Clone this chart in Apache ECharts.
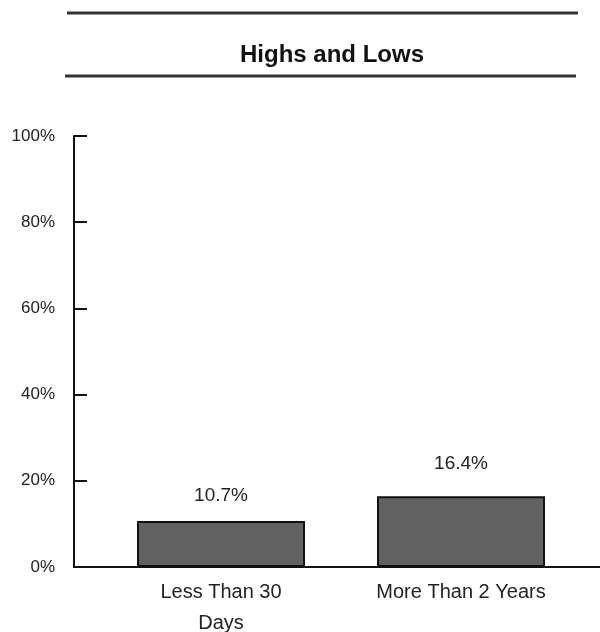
<!DOCTYPE html>
<html><head><meta charset="utf-8">
<script src="https://cdn.jsdelivr.net/npm/echarts@6/dist/echarts.min.js"></script>
<style>html,body{margin:0;padding:0;background:#fff}#c{width:600px;height:632px}</style>
</head><body><div id="c"></div>
<script>
var categories = ['Less Than 30\nDays', 'More Than 2 Years'];
var values = [10.7, 16.4];
var yMin = 0, yMax = 100, yStep = 20;
var titleText = 'Highs and Lows';

var labelDistances = [16, 23];
var FONT = '"Liberation Sans", Arial, sans-serif';
var chart = echarts.init(document.getElementById('c'), null, {renderer: 'canvas'});
chart.setOption({
  animation: false,
  backgroundColor: '#fff',
  title: {
    text: titleText, left: 327, top: 38, textAlign: 'center',
    textStyle: {fontFamily: FONT, fontWeight: 'bold', fontSize: 24, color: '#111'}
  },
  grid: {left: 101, right: 19, top: 136, bottom: 65, containLabel: false, outerBoundsMode: 'none'},
  xAxis: {
    type: 'category', data: categories,
    axisLine: {show: false},
    axisTick: {show: false},
    axisLabel: {margin: 10, fontFamily: FONT, fontSize: 20, color: '#222', lineHeight: 31, interval: 0}
  },
  yAxis: {
    type: 'value', min: yMin, max: yMax, interval: yStep, offset: 27,
    splitLine: {show: false},
    axisLine: {show: true, lineStyle: {color: '#111', width: 2}},
    axisTick: {show: true, inside: true, length: 13, lineStyle: {color: '#111', width: 2}},
    axisLabel: {formatter: '{value}%', margin: 19, fontFamily: FONT, fontSize: 17, color: '#222'}
  },
  series: [{
    type: 'bar', barWidth: 168,
    data: values.map(function (v, i) { return {value: v, label: {distance: labelDistances[i]}}; }),
    itemStyle: {color: '#626262', borderColor: '#111', borderWidth: 2},
    label: {show: true, position: 'top', formatter: function(p){return p.value.toFixed(1) + '%';},
      fontFamily: FONT, fontSize: 19, color: '#222'}
  }]
});
var y0 = chart.convertToPixel({yAxisIndex: 0}, 0);
chart.setOption({
  graphic: [
    {type: 'line', shape: {x1: 67, y1: 13, x2: 578, y2: 13}, style: {stroke: '#333', lineWidth: 3}},
    {type: 'line', shape: {x1: 65, y1: 76, x2: 576, y2: 76}, style: {stroke: '#333', lineWidth: 3}},
    {type: 'line', shape: {x1: 73, y1: y0, x2: 600, y2: y0}, style: {stroke: '#111', lineWidth: 2}}
  ]
});
</script></body></html>
